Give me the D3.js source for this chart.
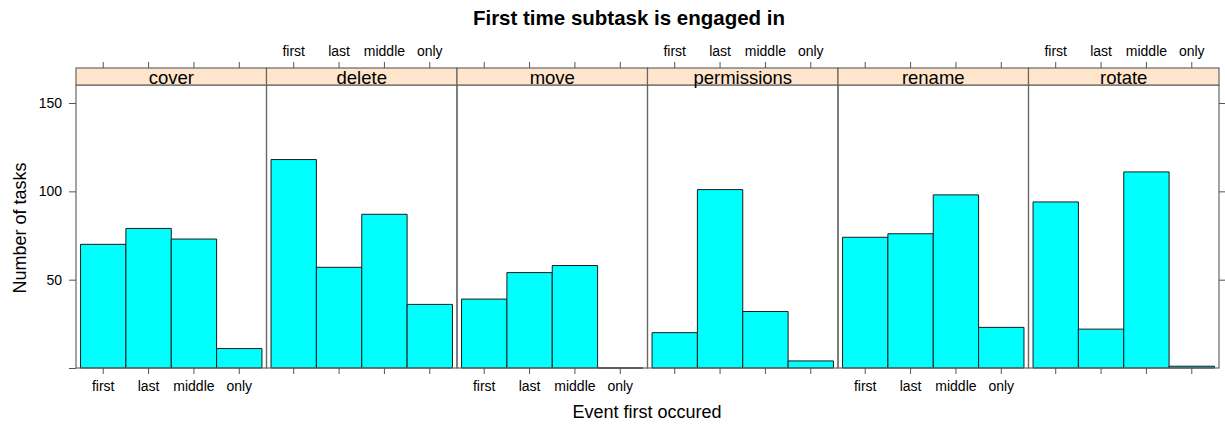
<!DOCTYPE html>
<html>
<head>
<meta charset="utf-8">
<script src="https://cdn.jsdelivr.net/npm/d3@7"></script>
<style>
  body { margin: 0; background: #fff; }
  text { font-family: "Liberation Sans", Arial, sans-serif; fill: #000; }
</style>
</head>
<body>
<svg id="chart" width="1225" height="424"></svg>
<script>
const panels = ["cover", "delete", "move", "permissions", "rename", "rotate"];
const events = ["first", "last", "middle", "only"];
const cover = [70, 79, 73, 11];
const del = [118, 57, 87, 36];
const move = [39, 54, 58, 0];
const permissions = [20, 101, 32, 4];
const rename = [74, 76, 98, 23];
const rotate = [94, 22, 111, 1];
const seriesValues = [cover, del, move, permissions, rename, rotate];
const yTicks = [0, 50, 100, 150];
const yTickLabels = ["", "50", "100", "150"];

const svg = d3.select("#chart");
const left = 76, right = 1219, stripTop = 68, stripH = 17, bottom = 368;
const plotTop = stripTop + stripH;
const pw = (right - left) / panels.length;

const px = d3.scaleBand().domain(panels).range([left, right]);
const y = d3.scaleLinear().domain([0, 160.2]).range([bottom, plotTop]);
const x = d3.scaleLinear().domain([0.4, events.length + 0.6]).range([0, pw]);

const border = "#666";
const tickFont = "14px";

panels.forEach((p, i) => {
  const g = svg.append("g").attr("transform", `translate(${px(p)},0)`);
  const vals = seriesValues[i];
  g.selectAll("path.bar").data(vals).join("path")
    .attr("class", "bar")
    .attr("d", (d, j) => {
      const x0 = x(j + 0.5), x1 = x(j + 1.5), y0 = y(0), y1 = y(d);
      return `M${x0},${y0}H${x1}V${y1}H${x0}Z`;
    })
    .attr("fill", "#00FFFF")
    .attr("stroke", "#1a1a1a")
    .attr("stroke-width", 1);
  g.append("rect").attr("x", 0).attr("y", plotTop).attr("width", pw).attr("height", bottom - plotTop)
    .attr("fill", "none").attr("stroke", border).attr("stroke-width", 1.2);
  g.append("rect").attr("x", 0).attr("y", stripTop).attr("width", pw).attr("height", stripH)
    .attr("fill", "#FFE5CC").attr("stroke", border).attr("stroke-width", 1.2);
  g.append("text").attr("x", pw / 2).attr("y", stripTop + stripH - 1.5)
    .attr("text-anchor", "middle")
    .style("font-size", "18.5px").text(p);
  const xa = d3.scaleBand().domain(events).range([x(0.5), x(events.length + 0.5)]);
  const topLabels = i % 2 === 1;
  const bottomAxis = d3.axisBottom(xa).tickSize(6).tickSizeOuter(0)
    .tickFormat(topLabels ? "" : d => d);
  const topAxis = d3.axisTop(xa).tickSize(6).tickSizeOuter(0)
    .tickFormat(topLabels ? d => d : "");
  const gb = g.append("g").attr("transform", `translate(0,${bottom})`).call(bottomAxis);
  const gt = g.append("g").attr("transform", `translate(0,${stripTop})`).call(topAxis);
  [gb, gt].forEach(ax => {
    ax.select(".domain").remove();
    ax.selectAll("line").attr("stroke", "#555");
    ax.selectAll("text").style("font-size", tickFont).style("font-family", "Liberation Sans, Arial, sans-serif").attr("fill", "#000");
  });
  gb.selectAll("text").attr("dy", "1.0em");
  gt.selectAll("text").attr("dy", "-0.24em");
});

const ya = svg.append("g").attr("transform", `translate(${left},0)`)
  .call(d3.axisLeft(y).tickValues(yTicks).tickSize(7).tickPadding(7).tickFormat((d, i) => yTickLabels[i]));
ya.select(".domain").remove();
ya.selectAll("line").attr("stroke", "#555");
ya.selectAll("text").style("font-size", tickFont).style("font-family", "Liberation Sans, Arial, sans-serif").attr("fill", "#000");
const yr = svg.append("g").attr("transform", `translate(${right},0)`)
  .call(d3.axisRight(y).tickValues(yTicks.slice(1)).tickSize(6).tickFormat(""));
yr.select(".domain").remove();
yr.selectAll("line").attr("stroke", "#555");

svg.append("text").attr("x", 629).attr("y", 24.5).attr("text-anchor", "middle")
  .style("font-size", "20.5px").style("font-weight", "bold").text("First time subtask is engaged in");
svg.append("text").attr("x", 647).attr("y", 418).attr("text-anchor", "middle")
  .style("font-size", "18px").text("Event first occured");
svg.append("text").attr("transform", "translate(26,228) rotate(-90)").attr("text-anchor", "middle")
  .style("font-size", "18px").text("Number of tasks");
</script>
</body>
</html>
